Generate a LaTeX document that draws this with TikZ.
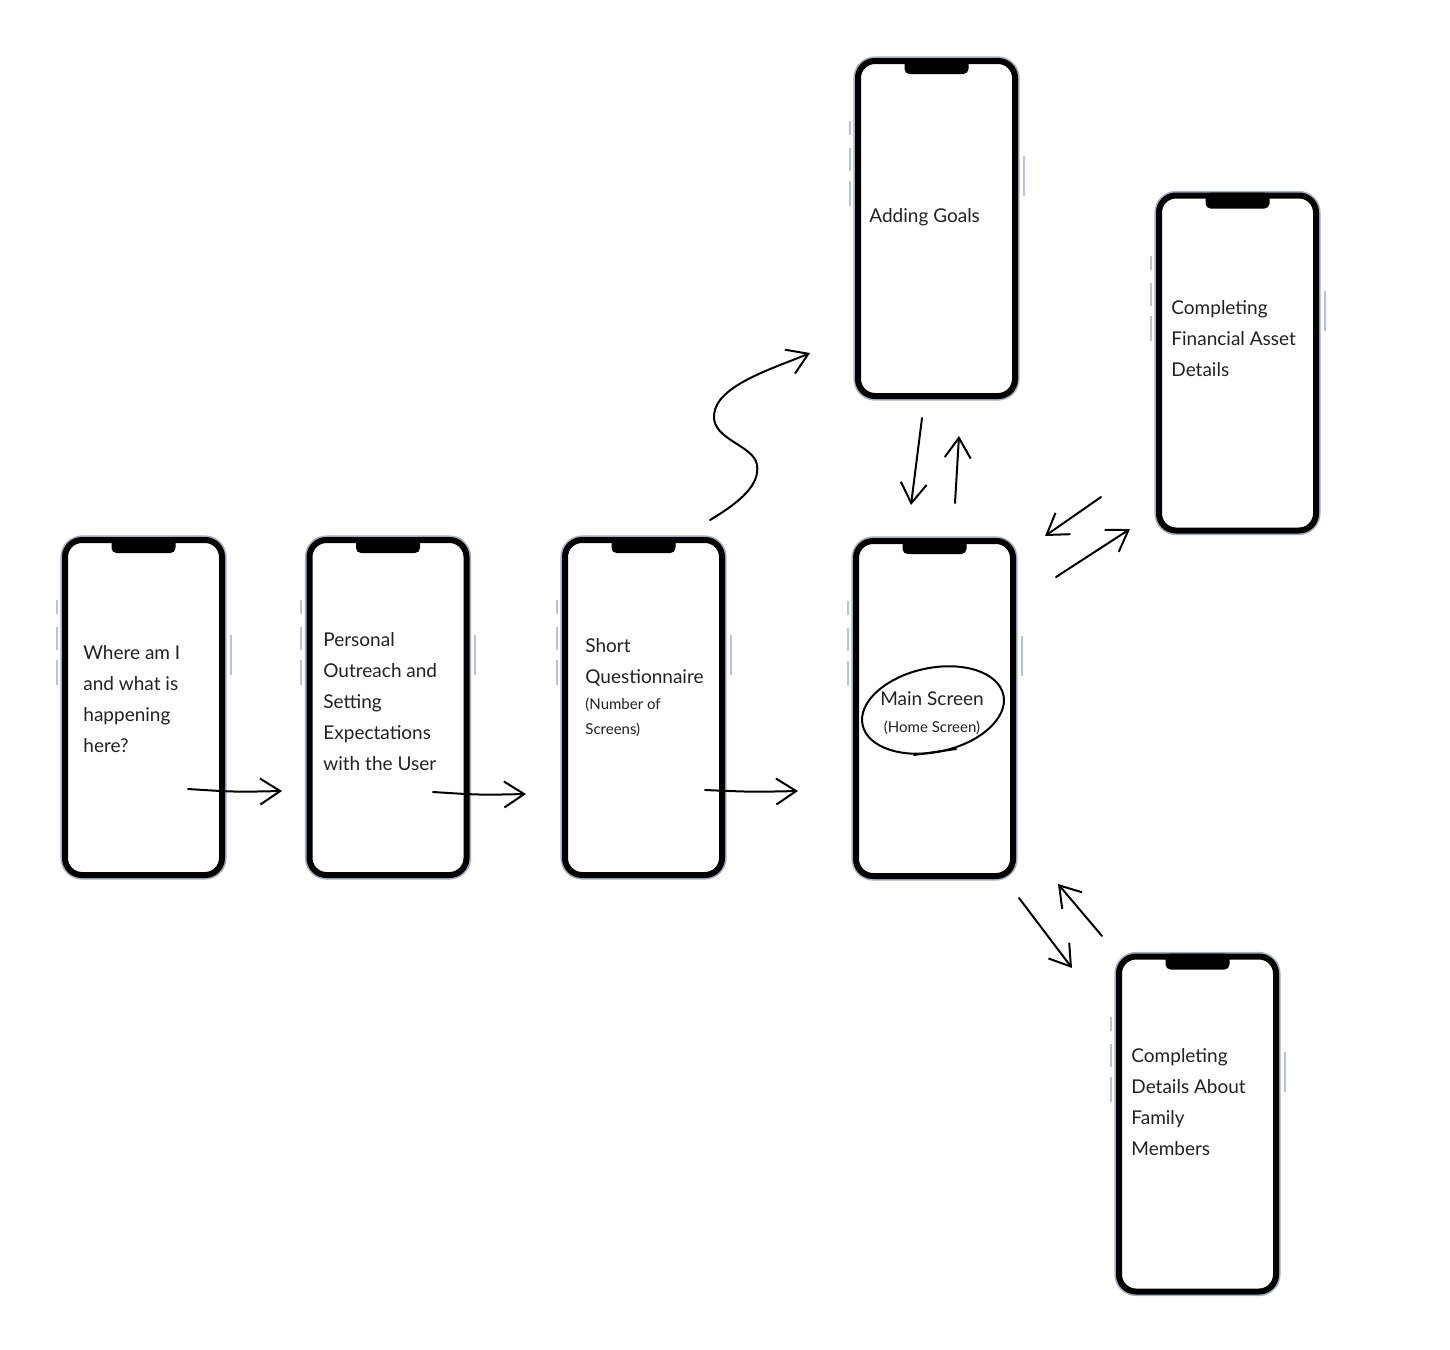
\documentclass[tikz,border=0pt]{standalone}
\usepackage{fontspec}
\setmainfont{Lato}
\usetikzlibrary{arrows.meta,calc}
\definecolor{frameblue}{HTML}{A3AFC2}
\definecolor{btnblue}{HTML}{B9C3D3}
\definecolor{inkgray}{HTML}{222222}
\tikzset{
  phone/.style={draw=black, line width=3pt, rounded corners=8.5pt,
    minimum width=78.5pt, minimum height=167.5pt, fill=white, inner sep=0pt,
    preaction={draw=frameblue, line width=4.6pt}},
  notchfill/.style={fill=black, rounded corners=2.5pt},
  sidebtn/.style={fill=btnblue},
  screentext/.style={anchor=north west, align=left, inner sep=0pt, text=inkgray,
    font=\fontsize{9.5}{15.5}\selectfont},
  smalltext/.style={anchor=north west, align=left, inner sep=0pt, text=inkgray,
    font=\fontsize{7.5}{12.5}\selectfont},
  sketch/.style={line width=1pt, line cap=round, line join=round,
    -{Straight Barb[length=10pt,width=13pt,line width=1pt]}},
  ring/.style={line width=1pt, line cap=round},
}
\newcommand\mkphone[3]{%
  \node[phone] (#1) at (#2,#3) {};
  \fill[notchfill] ($(#1.north)+(-32,0)$) -- ($(#1.north)+(-32,16)$) -- ($(#1.north)+(32,16)$) -- ($(#1.north)+(32,0)$) -- cycle;
  \fill[sidebtn] ($(#1.north west)+(-6.5,63)$) rectangle ($(#1.north west)+(-4.5,77)$);
  \fill[sidebtn] ($(#1.north west)+(-6.5,90)$) rectangle ($(#1.north west)+(-4.5,113)$);
  \fill[sidebtn] ($(#1.north west)+(-6.5,123)$) rectangle ($(#1.north west)+(-4.5,148)$);
  \fill[sidebtn] ($(#1.north east)+(4.5,98)$) rectangle ($(#1.north east)+(6.5,138)$);
}
\begin{document}
\begin{tikzpicture}[x=0.5pt,y=-0.5pt]
\useasboundingbox[fill=white] (0,0) rectangle (1450,1349);

% phones
\mkphone{p1}{143.5}{707.5}
\mkphone{p2}{388}{707.5}
\mkphone{p3}{643.5}{707.5}
\mkphone{p4}{934.5}{708.5}
\mkphone{p5}{936.5}{228.5}
\mkphone{p6}{1237.5}{363}
\mkphone{p7}{1197.5}{1124}

% texts
\node[screentext] (t1) at (83,645) {Where am I\\and what is\\happening\\here?};
\node[screentext] (t2) at (323,632) {Personal\\Outreach and\\Setting\\Expectations\\with the User};
\node[screentext] (t3) at (585,638) {Short\\Questionnaire};
\node[smalltext] (t3b) at (585,697) {(Number of\\Screens)};
\node[inner sep=0pt, align=center, text=inkgray, anchor=north] (t4) at (932,691)
  {{\fontsize{9.5}{12}\selectfont Main Screen}\\[1.5pt]{\fontsize{7.5}{12}\selectfont (Home Screen)}};
\node[screentext] (t5) at (869,208) {Adding Goals};
\node[screentext] (t6) at (1171,300) {Completing\\Financial Asset\\Details};
\node[screentext] (t7) at (1131,1048) {Completing\\Details About\\Family\\Members};

% ring around main screen label
\draw[ring, rotate around={12:(933,710)}] (933,710) ellipse [x radius=72, y radius=42];
\coordinate (r1) at (914,755);
\coordinate (r2) at (956,749);
\draw[ring] (r1) .. controls (935,752) .. (r2);

% arrow end points
\coordinate (a1s) at (188,789);  \coordinate (a1e) at (282,791);
\coordinate (a2s) at (433,792);  \coordinate (a2e) at (526,794);
\coordinate (a3s) at (705,790);  \coordinate (a3e) at (798,791);
\coordinate (sqs) at (710,520);  \coordinate (sqe) at (810,353);
\coordinate (dns) at (922,418);  \coordinate (dne) at (911,505);
\coordinate (ups) at (955,503);  \coordinate (upe) at (959,436);
\coordinate (f1s) at (1101,497); \coordinate (f1e) at (1045,536);
\coordinate (f2s) at (1056,577); \coordinate (f2e) at (1130,529);
\coordinate (m1s) at (1019,898); \coordinate (m1e) at (1072,968);
\coordinate (m2s) at (1102,936); \coordinate (m2e) at (1058,884);

\draw[sketch] (a1s) .. controls (235,792) .. (a1e);
\draw[sketch] (a2s) .. controls (480,795) .. (a2e);
\draw[sketch] (a3s) .. controls (752,792) .. (a3e);
\draw[sketch] (sqs) .. controls (740,502) and (760,485) .. (757,465)
   .. controls (754,445) and (712,440) .. (714,415)
   .. controls (716,385) and (775,368) .. (sqe);
\draw[sketch] (dns) -- (dne);
\draw[sketch] (ups) -- (upe);
\draw[sketch] (f1s) -- (f1e);
\draw[sketch] (f2s) -- (f2e);
\draw[sketch] (m1s) -- (m1e);
\draw[sketch] (m2s) -- (m2e);
\end{tikzpicture}
\end{document}
